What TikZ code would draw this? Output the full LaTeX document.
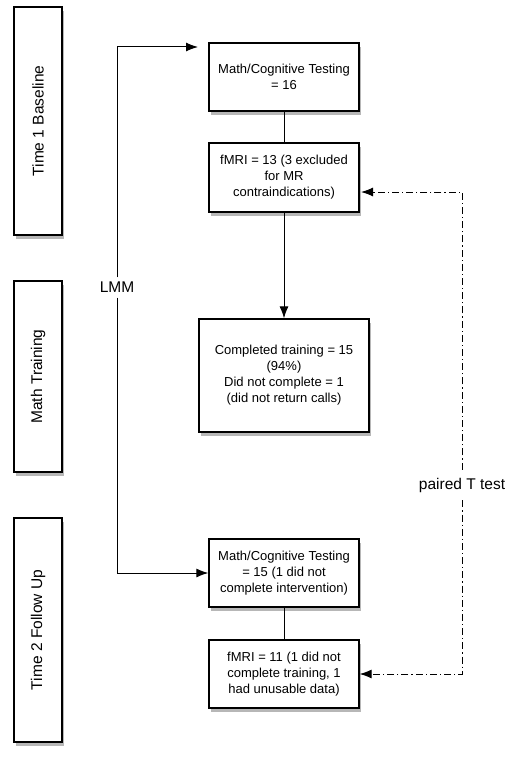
\documentclass[tikz,border=0pt]{standalone}
\usepackage{fontspec}
\setmainfont{Liberation Sans}
\usepackage{tikz}
\usetikzlibrary{arrows.meta}
\usetikzlibrary{shadows}

\tikzset{
    stagebox/.style={draw, line width=1.3pt, fill=white, inner sep=0pt,
        drop shadow={shadow xshift=1.5pt, shadow yshift=-4pt, opacity=0.4, fill=black!70},
        font=\fontsize{15.5}{18}\selectfont},
    countbox/.style={draw, line width=1.3pt, fill=white, align=center, inner sep=0pt,
        drop shadow={shadow xshift=1.5pt, shadow yshift=-4pt, opacity=0.4, fill=black!70},
        font=\fontsize{13}{16}\selectfont},
    testlabel/.style={font=\fontsize{15.5}{18}\selectfont, inner sep=0pt},
    arr/.style={-{Latex[length=12pt,width=9pt]}},
    pairline/.style={dash pattern=on 7pt off 3pt on 1.2pt off 3pt},
}

\begin{document}
\begin{tikzpicture}[x=1pt, y=-1pt]
            \useasboundingbox (0,0) rectangle (512,760);

            % Stages on the left
            \node (timeone) at (38,121) [stagebox, minimum width=48pt, minimum height=228pt] {\rotatebox{90}{Time 1 Baseline}};
            \node (training) at (38,376.5) [stagebox, minimum width=48pt, minimum height=191pt] {\rotatebox{90}{Math Training}};
            \node (timetwo) at (38,630) [stagebox, minimum width=48pt, minimum height=224pt] {\rotatebox{90}{Time 2 Follow Up}};

            % Time 1
            \node (testone) at (284,77) [countbox, minimum width=150pt, minimum height=68pt] {Math/Cognitive Testing\\= 16};
            \node (fmrione) at (284,177.5) [countbox, minimum width=150pt, minimum height=69pt] {fMRI = 13 (3 excluded\\for MR\\contraindications)};
            \draw [line width=1pt] (testone) -- (fmrione);

            % Training
            \node (completed) at (284,375.5) [countbox, minimum width=170pt, minimum height=113pt] {Completed training = 15\\(94\%)\\Did not complete = 1\\ (did not return calls)};
            \draw [arr, line width=1pt] (fmrione) -- (completed);

            % Time 2
            \node (testtwo) at (284,573) [countbox, minimum width=150pt, minimum height=68pt] {Math/Cognitive Testing\\= 15 (1 did not\\complete intervention)};
            \node (fmritwo) at (284,674) [countbox, minimum width=150pt, minimum height=68pt] {fMRI = 11 (1 did not\\complete training, 1\\had unusable data)};
            \draw [line width=1pt] (testtwo) -- (fmritwo);

            % LMM
            \node (lmm) at (117,287) [testlabel] {LMM};
            \coordinate (lmmend) at (198,47);
            \draw [arr, line width=1pt] (lmm.north) ++(0,-4) |- (lmmend);
            \draw [arr, line width=1pt] (lmm.south) ++(0,5) |- (testtwo.west);

            % paired T test
            \node (paired) at (462,485) [testlabel] {paired T test};
            \coordinate (pairedend) at (361,192);
            \draw [arr, line width=1pt, pairline] (paired.north) ++(0,-8) |- (pairedend);
            \draw [arr, line width=1pt, pairline] (paired.south) ++(0,8) |- (fmritwo.east);
        \end{tikzpicture}
\end{document}
